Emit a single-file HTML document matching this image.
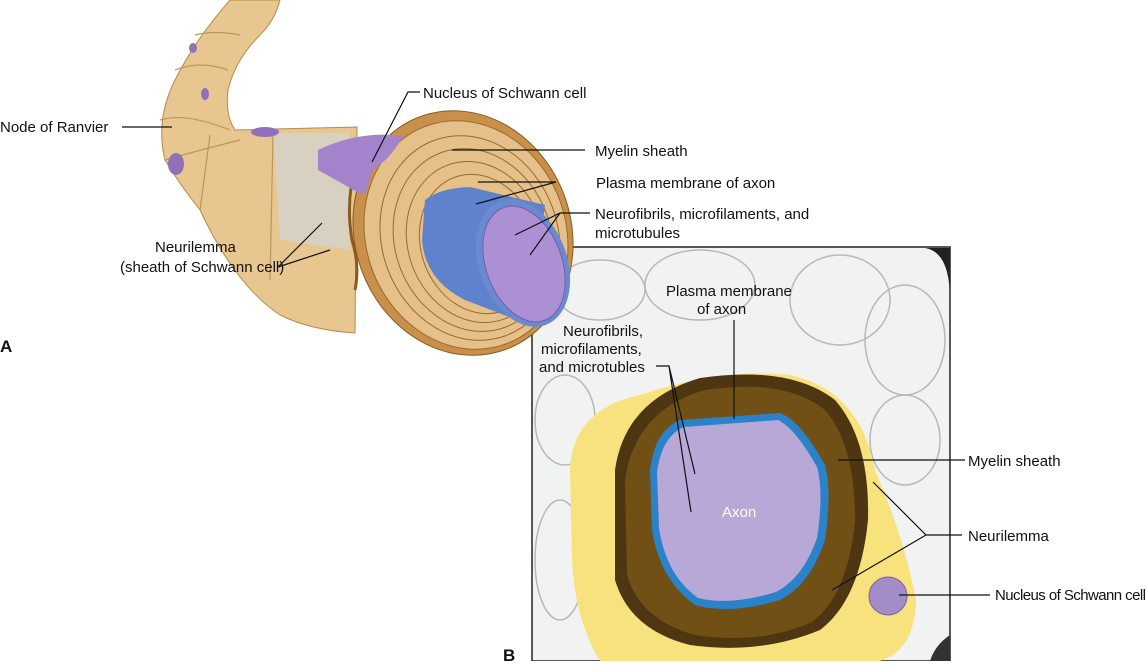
<!DOCTYPE html>
<html><head><meta charset="utf-8"><style>
body{margin:0;background:#fff;width:1147px;height:661px;overflow:hidden;font-family:"Liberation Sans",Arial,sans-serif}
</style></head><body>
<svg width="1147" height="661" viewBox="0 0 1147 661" xmlns="http://www.w3.org/2000/svg" font-family="Liberation Sans, Arial, sans-serif" font-size="15" fill="#111">
<!-- Panel B micrograph -->
<rect x="532" y="247" width="418" height="414" fill="#f1f3f3" stroke="#222" stroke-width="1.5"/>
<g fill="none" stroke="#b4b8bc" stroke-width="1.5">
<ellipse cx="600" cy="290" rx="45" ry="30"/><ellipse cx="700" cy="285" rx="55" ry="35"/>
<ellipse cx="840" cy="300" rx="50" ry="45"/><ellipse cx="905" cy="340" rx="40" ry="55"/>
<ellipse cx="905" cy="440" rx="35" ry="45"/><ellipse cx="565" cy="420" rx="30" ry="45"/>
<ellipse cx="560" cy="560" rx="25" ry="60"/>
</g>
<path d="M925 248 Q950 252 950 300 L950 248 Z" fill="#222"/>
<path d="M930 661 Q935 645 950 635 L950 661 Z" fill="#333"/>
<path d="M570 470 Q572 410 640 395 Q720 368 790 375 Q860 390 875 470 Q905 540 916 600 Q915 650 880 661 L600 661 Q575 620 572 560 Z" fill="#f8e27e"/>
<path d="M615 470 Q625 400 700 378 Q790 365 835 400 Q870 440 868 520 Q860 600 820 630 Q760 655 690 645 Q630 630 615 580 Z" fill="#4e3612"/>
<path d="M625 480 Q635 410 705 390 Q785 378 825 410 Q855 445 855 520 Q848 595 812 622 Q760 645 695 635 Q640 620 627 575 Z" fill="#7a5818" opacity="0.8"/>
<path d="M650 470 Q655 430 680 420 L780 413 Q800 420 825 465 Q832 490 825 540 Q810 585 780 600 Q730 615 695 605 Q660 580 652 530 Z" fill="#2a82c8"/>
<path d="M657 472 Q662 436 684 427 L778 420 Q795 428 817 467 Q824 492 817 538 Q803 578 776 592 Q730 606 698 598 Q666 575 659 528 Z" fill="#b8a8d8"/>
<circle cx="888" cy="596" r="19" fill="#a48cc8" stroke="#7a60a0"/>
<text x="722" y="517" font-size="15" fill="#fff">Axon</text>
<!-- Panel A drawing -->
<path d="M230 0 L280 0 Q275 20 260 35 Q235 60 228 90 Q225 115 235 130 L357 127 L355 333 Q310 330 280 315 Q235 285 200 210 Q180 185 165 160 Q155 120 175 80 Q195 40 230 0 Z" fill="#e8c690" stroke="#b88a4a"/>
<path d="M273 133 L350 133 L350 250 L280 240 Z" fill="#d8d0c0"/>
<g stroke="#c0955a" fill="none" stroke-width="1.2">
<path d="M160 120 Q185 112 230 130"/><path d="M165 160 Q200 150 240 140"/>
<path d="M175 70 Q200 60 228 70"/><path d="M195 35 Q215 30 240 35"/>
<path d="M210 135 L200 210"/><path d="M273 135 L270 280"/>
</g>
<ellipse cx="463" cy="233" rx="108" ry="124" transform="rotate(-20 463 233)" fill="#c8904a" stroke="#8a5a20"/>
<ellipse cx="466" cy="235" rx="100" ry="116" transform="rotate(-20 466 235)" fill="#e5c088" stroke="#9a6a30"/>
<g fill="none" stroke="#9a6a30" stroke-width="1">
<ellipse cx="470" cy="238" rx="88" ry="104" transform="rotate(-20 470 238)"/>
<ellipse cx="473" cy="240" rx="78" ry="93" transform="rotate(-20 473 240)"/>
<ellipse cx="476" cy="242" rx="68" ry="82" transform="rotate(-20 476 242)"/>
<ellipse cx="479" cy="244" rx="58" ry="71" transform="rotate(-20 479 244)"/>
</g>
<path d="M357 160 Q345 200 352 240 Q360 265 355 290" fill="none" stroke="#8a5a20" stroke-width="3"/>
<path d="M425 200 Q440 188 470 187 L545 205 L530 325 L465 300 Q425 280 422 240 Z" fill="#5f82cc"/>
<ellipse cx="523" cy="263" rx="44" ry="66" transform="rotate(-20 523 263)" fill="#6a8ad0"/>
<ellipse cx="524" cy="264" rx="38" ry="60" transform="rotate(-20 524 264)" fill="#ab90d4" stroke="#7a58b0"/>
<path d="M318 150 Q360 130 403 136 Q390 160 372 170 Q368 190 362 195 Q345 185 318 170 Z" fill="#a283cc"/>
<ellipse cx="176" cy="164" rx="8" ry="11" fill="#9070b8"/>
<ellipse cx="205" cy="94" rx="4" ry="6" fill="#9070b8"/>
<ellipse cx="265" cy="132" rx="14" ry="5" fill="#9070b8"/>
<ellipse cx="193" cy="48" rx="4" ry="5" fill="#9070b8"/>
<!-- leader lines -->
<g stroke="#111" stroke-width="1.2" fill="none">
<path d="M122 127 H172"/>
<path d="M420 92 H408 L372 162"/>
<path d="M585 150 H452"/>
<path d="M556 182 H478 M556 182 L476 204"/>
<path d="M590 213 H560 L515 235 M560 213 L530 255"/>
<path d="M278 267 L322 223 M278 267 L330 250"/>
<path d="M734 320 V419"/>
<path d="M656 366 H669 L691 512 M669 366 L695 474"/>
<path d="M965 460 H838"/>
<path d="M962 535 H926 L873 482 M926 535 L832 590"/>
<path d="M990 595 H899"/>
</g>
<text x="0" y="132">Node of Ranvier</text>
<text x="423" y="98">Nucleus of Schwann cell</text>
<text x="595" y="156">Myelin sheath</text>
<text x="596" y="188">Plasma membrane of axon</text>
<text x="595" y="219">Neurofibrils, microfilaments, and</text>
<text x="595" y="238">microtubules</text>
<text x="155" y="252">Neurilemma</text>
<text x="120" y="272">(sheath of Schwann cell)</text>
<text x="0" y="352" font-weight="bold" font-size="17">A</text>
<text x="666" y="296">Plasma membrane</text>
<text x="697" y="314">of axon</text>
<text x="563" y="336">Neurofibrils,</text>
<text x="541" y="354">microfilaments,</text>
<text x="539" y="372">and microtubles</text>
<text x="968" y="466">Myelin sheath</text>
<text x="968" y="541">Neurilemma</text>
<text x="995" y="600" textLength="151">Nucleus of Schwann cell</text>
<text x="503" y="661" font-weight="bold" font-size="17">B</text>
</svg>
</body></html>
